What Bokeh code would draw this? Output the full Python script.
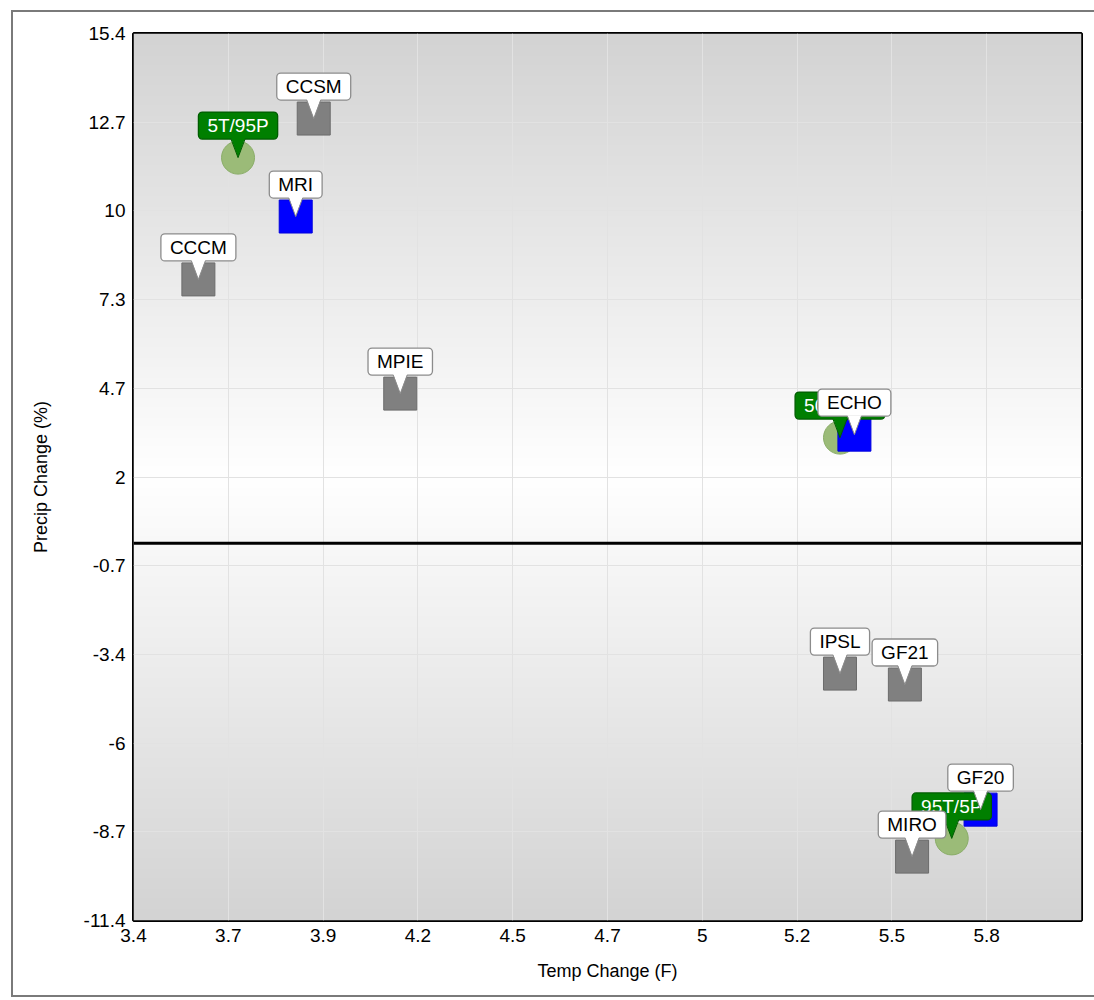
import numpy as np
from bokeh.plotting import figure
from bokeh.models import ColumnDataSource, Span
from bokeh.core.properties import value
from bokeh.embed import file_html
from bokeh.resources import INLINE

# ---------------- data ----------------
percentile_names = ["5T/95P", "50T/50P", "95T/5P"]
percentile_temp = [3.69, 5.36, 5.67]
percentile_precip = [11.65, 3.19, -8.92]

model_names = ["CCSM", "MRI", "CCCM", "MPIE", "ECHO", "IPSL", "GF21", "GF20", "MIRO"]
model_temp = [3.90, 3.85, 3.58, 4.14, 5.40, 5.36, 5.54, 5.75, 5.56]
model_precip = [12.83, 9.87, 7.97, 4.52, 3.28, -3.94, -4.27, -8.05, -9.47]
model_highlight = [False, True, False, False, True, False, False, True, False]

x_tick_values = [3.4, 3.663, 3.926, 4.189, 4.452, 4.715, 4.978, 5.241, 5.504, 5.767]
x_tick_labels = ["3.4", "3.7", "3.9", "4.2", "4.5", "4.7", "5", "5.2", "5.5", "5.8"]
y_tick_values = [-11.4, -8.72, -6.04, -3.36, -0.68, 2.0, 4.68, 7.36, 10.04, 12.72, 15.4]
y_tick_labels = ["-11.4", "-8.7", "-6", "-3.4", "-0.7", "2", "4.7", "7.3", "10", "12.7", "15.4"]

X0, X1 = 3.4, 6.03
Y0, Y1 = -11.4, 15.4

# ---------------- figure ----------------
W, H = 1094, 1000
BL, BR, BT, BB = 133, 13, 33, 80
FW, FH = W - BL - BR, H - BT - BB
FONT = "Liberation Sans"
p = figure(width=W, height=H, x_range=(X0, X1), y_range=(Y0, Y1),
           output_backend="svg", toolbar_location=None,
           min_border_left=BL, min_border_right=BR, min_border_top=BT, min_border_bottom=BB,
           border_fill_color="white", border_fill_alpha=0, background_fill_color="white")
p.styles = {"box-shadow": ("inset 11px 10px 0 0 white, inset 0 -3px 0 0 white, "
                           "inset 13px 12px 0 0 #7a7a7a, inset 0 -5px 0 0 #7a7a7a, "
                           "inset 7px 6px 0 0 white, inset 8px 7px 0 0 #9a9a9a")}

# gradient background of plot area
n = 400
ys = np.linspace(Y0, Y1, n)
mid = (Y0 + Y1) / 2
half = (Y1 - Y0) / 2
t = np.abs(ys - mid) / half
g = (255 - t * (255 - 211)).astype(np.uint8)
img = np.empty((n, 1), dtype=np.uint32)
view = img.view(dtype=np.uint8).reshape((n, 1, 4))
view[:, 0, 0] = g
view[:, 0, 1] = g
view[:, 0, 2] = g
view[:, 0, 3] = 255
p.image_rgba(image=[img], x=X0, y=Y0, dw=X1 - X0, dh=Y1 - Y0, level="image")

# axes
p.xaxis.ticker = x_tick_values
p.xaxis.major_label_overrides = {v: s for v, s in zip(x_tick_values, x_tick_labels)}
p.yaxis.ticker = y_tick_values
p.yaxis.major_label_overrides = {v: s for v, s in zip(y_tick_values, y_tick_labels)}
for ax in (p.xaxis[0], p.yaxis[0]):
    ax.axis_line_color = None
    ax.major_tick_line_color = None
    ax.minor_tick_line_color = None
    ax.major_tick_out = 0
    ax.major_tick_in = 0
    ax.major_label_text_font = FONT
    ax.major_label_text_font_size = "19px"
    ax.major_label_text_color = "black"
    ax.axis_label_text_font = FONT
    ax.axis_label_text_font_size = "18px"
    ax.axis_label_text_font_style = "normal"
    ax.axis_label_text_color = "black"
p.xaxis.axis_label = "Temp Change (F)"
p.yaxis.axis_label = "Precip Change (%)"
p.xaxis.major_label_standoff = 8
p.xaxis.axis_label_standoff = 16
p.yaxis.major_label_standoff = 8
p.yaxis.axis_label_standoff = 30

p.grid.grid_line_color = "#e2e2e2"
p.grid.grid_line_width = 1
p.outline_line_color = "black"
p.outline_line_width = 3

p.add_layout(Span(location=0, dimension="width", line_color="black", line_width=3))

# ---------------- markers ----------------
psrc = ColumnDataSource(dict(x=percentile_temp, y=percentile_precip, name=percentile_names))
msrc = ColumnDataSource(dict(
    x=model_temp, y=model_precip, name=model_names,
    fill=["#0000ff" if h else "#808080" for h in model_highlight],
    line=["#0000dd" if h else "#6c6c6c" for h in model_highlight]))

p.scatter("x", "y", source=psrc, marker="circle", size=33,
          fill_color="#9bbb78", line_color="#8aad68", line_width=1)
p.scatter("x", "y", source=msrc, marker="square", size=33,
          fill_color="fill", line_color="line", line_width=1)

# ---------------- callout labels ----------------
kx = (X1 - X0) / FW
ky = (Y1 - Y0) / FH


def pointer_source(xs, ys):
    xs = np.asarray(xs, dtype=float)
    ys = np.asarray(ys, dtype=float)
    return dict(
        px=[[x - 7 * kx, x + 7 * kx, x] for x in xs],
        py=[[y + 19.5 * ky, y + 19.5 * ky, y] for y in ys],
        lx=[[x - 7 * kx, x, x + 7 * kx] for x in xs],
        ly=[[y + 18.5 * ky, y, y + 18.5 * ky] for y in ys],
    )


def callouts(src, xs, ys, fill, border, text_color):
    p.text("x", "y", text="name", source=src, text_align="center", text_baseline="middle",
           y_offset=-32, text_font=value(FONT), text_font_size="19px", text_color=text_color,
           background_fill_color=fill, border_line_color=border, border_line_width=1.3,
           border_radius=4, padding=(9, 3))
    ps = ColumnDataSource(pointer_source(xs, ys))
    p.patches("px", "py", source=ps, fill_color=fill, line_color=None)
    p.multi_line("lx", "ly", source=ps, line_color=border, line_width=1)


callouts(psrc, percentile_temp, percentile_precip, "#007f00", "#005c00", "white")
callouts(msrc, model_temp, model_precip, "white", "#8c8c8c", "black")

open("out.html", "w").write(file_html(p, INLINE))
